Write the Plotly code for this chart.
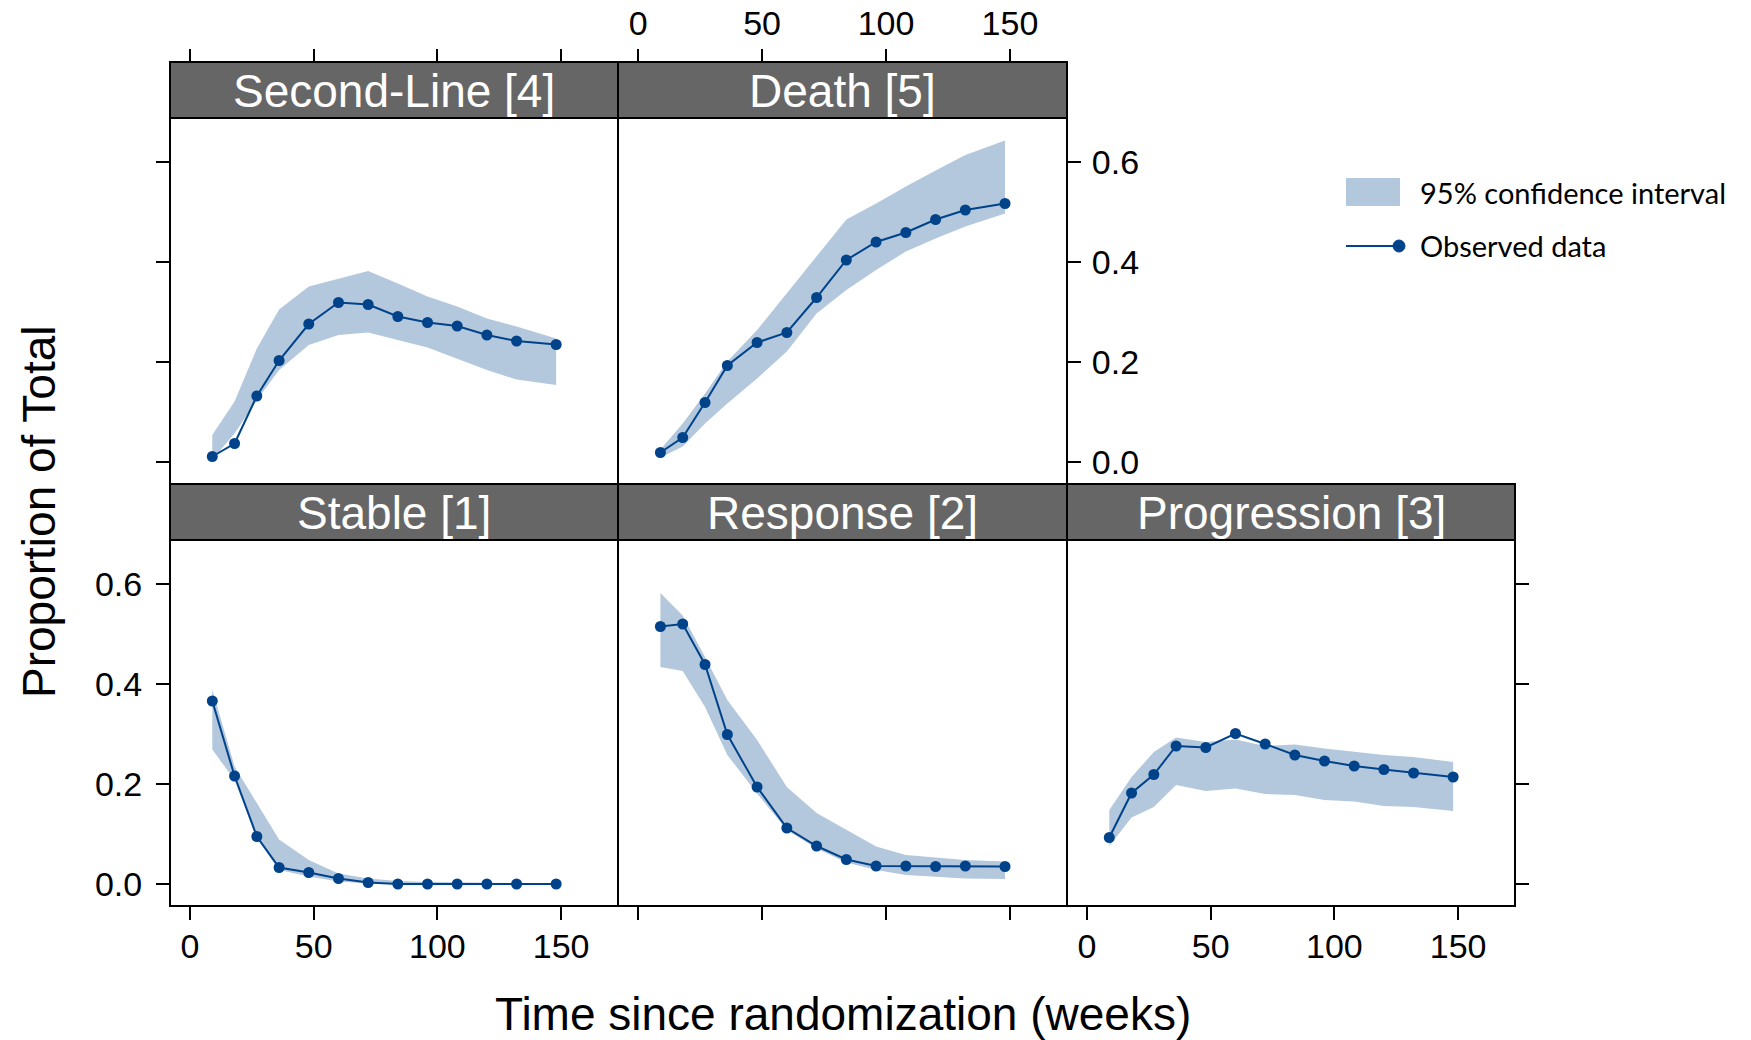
import plotly.graph_objects as go

# ---------------- data ----------------
weeks = [9, 18, 27, 36, 48, 60, 72, 84, 96, 108, 120, 132, 148]

panel_titles = ["Stable [1]", "Response [2]", "Progression [3]", "Second-Line [4]", "Death [5]"]

stable_obs = [0.366, 0.216, 0.095, 0.033, 0.023, 0.011, 0.003, 0.0, 0.0, 0.0, 0.0, 0.0, 0.0]
stable_hi = [0.389, 0.235, 0.162, 0.089, 0.048, 0.021, 0.011, 0.006, 0.004, 0.003, 0.002, 0.002, 0.002]
stable_lo = [0.269, 0.208, 0.091, 0.028, 0.015, 0.005, 0.001, 0.0, 0.0, 0.0, 0.0, 0.0, 0.0]

response_obs = [0.515, 0.520, 0.439, 0.299, 0.194, 0.112, 0.076, 0.049, 0.036, 0.036, 0.035, 0.036, 0.035]
response_hi = [0.582, 0.537, 0.454, 0.368, 0.288, 0.194, 0.142, 0.108, 0.075, 0.058, 0.053, 0.048, 0.045]
response_lo = [0.434, 0.426, 0.354, 0.258, 0.181, 0.108, 0.071, 0.043, 0.028, 0.018, 0.015, 0.011, 0.010]

progression_obs = [0.093, 0.182, 0.219, 0.276, 0.273, 0.301, 0.280, 0.258, 0.246, 0.236, 0.229, 0.222, 0.214]
progression_hi = [0.148, 0.214, 0.264, 0.293, 0.284, 0.289, 0.276, 0.279, 0.271, 0.264, 0.258, 0.254, 0.244]
progression_lo = [0.076, 0.133, 0.154, 0.198, 0.186, 0.191, 0.180, 0.178, 0.168, 0.165, 0.156, 0.154, 0.146]

secondline_obs = [0.011, 0.037, 0.132, 0.203, 0.276, 0.319, 0.315, 0.291, 0.279, 0.272, 0.254, 0.242, 0.235]
secondline_hi = [0.054, 0.121, 0.227, 0.305, 0.351, 0.367, 0.382, 0.357, 0.331, 0.311, 0.287, 0.271, 0.247]
secondline_lo = [0.005, 0.057, 0.124, 0.184, 0.234, 0.254, 0.259, 0.244, 0.229, 0.207, 0.184, 0.165, 0.154]

death_obs = [0.019, 0.049, 0.119, 0.193, 0.239, 0.259, 0.329, 0.404, 0.440, 0.459, 0.485, 0.504, 0.517]
death_hi = [0.025, 0.077, 0.137, 0.201, 0.264, 0.337, 0.412, 0.485, 0.517, 0.551, 0.583, 0.614, 0.643]
death_lo = [0.009, 0.031, 0.077, 0.117, 0.167, 0.221, 0.297, 0.344, 0.384, 0.421, 0.447, 0.471, 0.497]

x_ticks = [0, 50, 100, 150]
y_ticks = [0.0, 0.2, 0.4, 0.6]
y_tick_labels = ["0.0", "0.2", "0.4", "0.6"]

legend_labels = ["95% confidence interval", "Observed data"]
x_title = "Time since randomization (weeks)"
y_title = "Proportion of Total"

# ---------------- styling / layout ----------------
W, H = 1751, 1040
BAND = "#B3C8DD"
LINE = "#00438A"
STRIP = "#666666"
FONT = "Liberation Sans, Arial, sans-serif"
TICKFONT = dict(family=FONT, size=34, color="black")
XRANGE = [-8.1, 173.0]
YRANGE = [-0.044, 0.688]

def px(x):
    return x / W

def py(y):
    return 1 - y / H

cols = [(170, 618), (618, 1067), (1067, 1515)]
rows = {"top": (118, 484), "bottom": (540, 906)}
strip_h = 56

# panel: (title, obs, hi, lo, col, row, x ticks on, x labels, y side, y labels, y ticks on)
panels = [
    (panel_titles[0], stable_obs, stable_hi, stable_lo, 0, "bottom", True, True, "left", True, True),
    (panel_titles[1], response_obs, response_hi, response_lo, 1, "bottom", True, False, "left", False, False),
    (panel_titles[2], progression_obs, progression_hi, progression_lo, 2, "bottom", True, True, "right", False, True),
    (panel_titles[3], secondline_obs, secondline_hi, secondline_lo, 0, "top", False, False, "left", False, True),
    (panel_titles[4], death_obs, death_hi, death_lo, 1, "top", False, False, "right", True, True),
]

fig = go.Figure()
shapes = []
annotations = []
layout = {}

for i, (title, obs, hi, lo, c, r, xt, xlab, yside, ylab, yt) in enumerate(panels):
    n = i + 1
    xa = "x" if n == 1 else f"x{n}"
    ya = "y" if n == 1 else f"y{n}"
    fig.add_trace(go.Scatter(
        x=weeks + weeks[::-1], y=hi + lo[::-1], fill="toself", fillcolor=BAND,
        line=dict(width=0, color=BAND), mode="lines", hoverinfo="skip",
        showlegend=False, xaxis=xa, yaxis=ya))
    fig.add_trace(go.Scatter(
        x=weeks, y=obs, mode="lines+markers", line=dict(color=LINE, width=2),
        marker=dict(color=LINE, size=11), showlegend=False, xaxis=xa, yaxis=ya))

    x0, x1 = cols[c]
    y0, y1 = rows[r]
    xkey = "xaxis" if n == 1 else f"xaxis{n}"
    ykey = "yaxis" if n == 1 else f"yaxis{n}"
    layout[xkey] = dict(
        domain=[px(x0), px(x1)], range=XRANGE, anchor=ya, side="bottom",
        showgrid=False, zeroline=False, showline=False,
        ticks="outside" if xt else "", ticklen=13, tickwidth=1.5,
        tickcolor="black", tickvals=x_ticks, showticklabels=xlab,
        ticklabelstandoff=-3, tickfont=TICKFONT, fixedrange=True)
    layout[ykey] = dict(
        domain=[py(y1), py(y0)], range=YRANGE, anchor=xa, side=yside,
        showgrid=False, zeroline=False, showline=False,
        ticks="outside" if yt else "", ticklen=13,
        tickwidth=1.5, tickcolor="black", tickvals=y_ticks,
        ticktext=y_tick_labels, showticklabels=ylab,
        ticklabelstandoff=7 if yside == "left" else 4,
        tickfont=TICKFONT, fixedrange=True)

    # panel border
    shapes.append(dict(type="rect", xref="paper", yref="paper",
                       x0=px(x0), x1=px(x1), y0=py(y1), y1=py(y0),
                       line=dict(color="black", width=2), layer="above"))
    # strip
    sy1 = y0
    sy0 = y0 - strip_h
    shapes.append(dict(type="rect", xref="paper", yref="paper",
                       x0=px(x0), x1=px(x1), y0=py(sy1), y1=py(sy0),
                       fillcolor=STRIP, line=dict(color="black", width=2), layer="above"))
    annotations.append(dict(text=title, xref="paper", yref="paper",
                            x=px((x0 + x1) / 2), y=py((sy0 + sy1) / 2 + 1),
                            xanchor="center", yanchor="middle", showarrow=False,
                            font=dict(family=FONT, size=46, color="white")))

# top axes above the strips of the top row (Second-Line: ticks only, Death: ticks + labels)
for k, (base, c, lab) in enumerate([("x4", 0, False), ("x5", 1, True)]):
    n = 6 + k
    x0, x1 = cols[c]
    layout[f"xaxis{n}"] = dict(
        domain=[px(x0), px(x1)], range=XRANGE, overlaying=base, anchor="free",
        position=py(rows["top"][0] - strip_h), side="top",
        showgrid=False, zeroline=False, showline=False, ticks="outside",
        ticklen=13, tickwidth=1.5, tickcolor="black", tickvals=x_ticks,
        showticklabels=lab, tickfont=TICKFONT, fixedrange=True)
    fig.add_trace(go.Scatter(x=[None], y=[None], xaxis=f"x{n}", yaxis="y4" if c == 0 else "y5",
                             showlegend=False, hoverinfo="skip"))

# axis titles
annotations.append(dict(text=x_title, xref="paper", yref="paper", x=px(843), y=py(1014),
                        xanchor="center", yanchor="middle", showarrow=False,
                        font=dict(family=FONT, size=46, color="black")))
annotations.append(dict(text=y_title, xref="paper", yref="paper", x=px(39), y=py(512),
                        xanchor="center", yanchor="middle", showarrow=False, textangle=-90,
                        font=dict(family=FONT, size=46, color="black")))

# legend (manual)
LFONT = "Lato, Open Sans, sans-serif"
shapes.append(dict(type="rect", xref="paper", yref="paper",
                   x0=px(1346), x1=px(1400), y0=py(206), y1=py(178),
                   fillcolor=BAND, line=dict(width=0)))
shapes.append(dict(type="line", xref="paper", yref="paper",
                   x0=px(1346), x1=px(1399), y0=py(246), y1=py(246),
                   line=dict(color=LINE, width=2)))
shapes.append(dict(type="circle", xref="paper", yref="paper",
                   x0=px(1393), x1=px(1405), y0=py(252), y1=py(240),
                   fillcolor=LINE, line=dict(color=LINE, width=1)))
annotations.append(dict(text=legend_labels[0], xref="paper", yref="paper", x=px(1418), y=py(192),
                        xanchor="left", yanchor="middle", showarrow=False,
                        font=dict(family=LFONT, size=29, color="black")))
annotations.append(dict(text=legend_labels[1], xref="paper", yref="paper", x=px(1418), y=py(245),
                        xanchor="left", yanchor="middle", showarrow=False,
                        font=dict(family=LFONT, size=29, color="black")))

fig.update_layout(
    width=W, height=H, margin=dict(l=0, r=0, t=0, b=0),
    paper_bgcolor="white", plot_bgcolor="white",
    showlegend=False, shapes=shapes, annotations=annotations, **layout)

fig.write_html("out.html", config={"displayModeBar": False})
